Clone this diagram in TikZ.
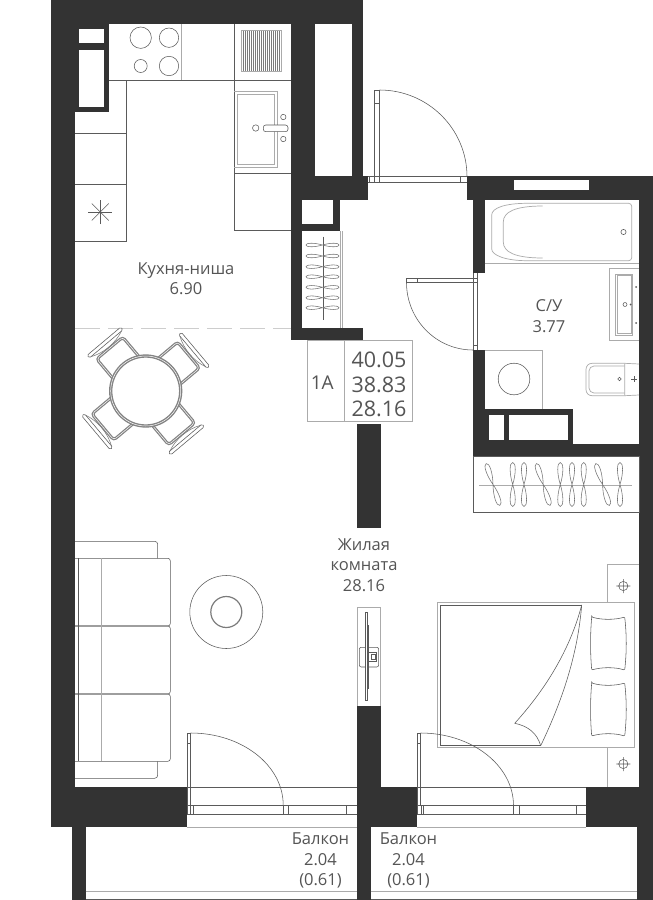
\documentclass[tikz,border=0pt]{standalone}
\usepackage{fontspec}
\setmainfont{Open Sans}
\definecolor{wallc}{HTML}{333333}
\definecolor{linec}{HTML}{5A5A5A}
\definecolor{softc}{HTML}{ABABAB}
\definecolor{textc}{HTML}{555555}
\tikzset{
  wall/.style={fill=wallc},
  glass/.style={fill=white},
  thin line/.style={draw=linec, line width=.55pt},
  soft line/.style={draw=softc, line width=.9pt},
  lab/.style={text=textc, align=center, inner sep=0pt, font=\fontsize{16.5}{20.5}\selectfont},
  hanger/.pic={\draw[thin line, draw=linec!85] (0,0) .. controls (-11,-3.4) and (-22,-3.4) .. (-22,0) .. controls (-22,3.4) and (-11,3.4) .. (0,0)
      .. controls (11,-3.4) and (22,-3.4) .. (22,0) .. controls (22,3.4) and (11,3.4) .. (0,0);},
  chair/.pic={
    \draw[draw=linec!75, line width=1.25pt, double=white, double distance=.5pt, rounded corners=3pt] (25,-17) -- (56,-17) -- (56,17) -- (25,17);
    \draw[thin line, fill=white, rounded corners=1.5pt] (61.5,-22) rectangle (65,22);
    \draw[thin line, draw=linec!80] (61.5,-20) .. controls (56,-8) and (56,8) .. (61.5,20);},
  pillow/.pic={\draw[thin line, rounded corners=1pt] (0,0) .. controls (10,3) and (23,3) .. (33,0) .. controls (35,18) and (35,35) .. (33,53)
      .. controls (23,50) and (10,50) .. (0,53) .. controls (-1.5,35) and (-1.5,18) .. (0,0) -- cycle;},
  outlet/.pic={\draw[thin line] (0,0) circle[radius=4.6] (-7,0) -- (7,0) (0,-7) -- (0,7);}
}
\begin{document}
\begin{tikzpicture}[x=1pt, y=-1pt]
\useasboundingbox (0,0) rectangle (653,900);
\fill[white] (0,0) rectangle (653,900);

% walls
\fill[wall] (51,0) rectangle (363,24);
\fill[wall] (51,0) rectangle (75,827);
\fill[wall] (51,24) rectangle (109,112);
\fill[wall] (291,0) rectangle (363,176);
\fill[wall] (291,176) rectangle (368,200);
\fill[wall] (291,200) rectangle (302,340);
\fill[wall] (333,200) rectangle (340,231);
\fill[wall] (291,224) rectangle (340,231);
\fill[wall] (291,328) rectangle (363,340);
\fill[wall] (357,424) rectangle (381,528);
\fill[wall] (467,176) rectangle (653,200);
\fill[wall] (473,200) rectangle (484.5,273);
\fill[wall] (639,200) rectangle (653,787);
\fill[wall] (473,350) rectangle (484.5,456);
\fill[wall] (473,409) rectangle (573,456);
\fill[wall] (573,444) rectangle (639,456);
\fill[wall] (357,706) rectangle (381,787);
\fill[wall] (357,787) rectangle (417,827);
\fill[wall] (357,827) rectangle (370.7,900);
\fill[wall] (586.3,787) rectangle (653,827);
\fill[wall] (637,827) rectangle (653,900);
\fill[wall] (51,787) rectangle (187,827);
\fill[wall] (72,827) rectangle (85.7,900);
\fill[glass] (79,29) rectangle (104,43);
\fill[glass] (79,49.5) rectangle (104,107);
\fill[glass] (314.7,24) rectangle (352,176);
\fill[glass] (302.5,200) rectangle (333,224);
\fill[glass] (513.5,179.5) rectangle (588.5,189.5);
\fill[glass] (489,414.5) rectangle (503.6,440);
\fill[glass] (509,414.5) rectangle (567.6,440);

% kitchen
\draw[thin line] (109,80) -- (291,80) (234.3,24) -- (234.3,230) -- (291,230) (234.3,173.3) -- (291,173.3);
\draw[soft line] (181,24) -- (181,80);
\draw[thin line] (126.7,80) -- (126.7,241) -- (75,241) (75,133.3) -- (126.7,133.3) (75,184) -- (126.7,184);
\foreach \cx/\cy/\rr in {140.7/37.7/10.7, 169/37.7/9.7, 140.7/66/6.5, 169/66/9.7}
  \draw[thin line] (\cx,\cy) circle[radius=\rr];
\draw[soft line] (241,30) rectangle (281,71.3);
\foreach \hx in {243,245,...,279}
  \draw[draw=linec!80, line width=.7pt] (\hx,30.5) -- (\hx,71);
\foreach \ang in {0,45,...,135}
  \draw[thin line, rotate around={\ang:(100.3,212)}] (88.3,212) -- (112.3,212);
\draw[soft line, line width=.7pt] (234.3,91) -- (277,91) -- (277,167.3) -- (234.3,167.3);
\draw[soft line, line width=.7pt] (237.3,94) rectangle (274,164);
\draw[thin line, fill=white, rounded corners=2.5pt] (263.3,125) rectangle (288,131.7);
\draw[thin line] (255.7,128) circle[radius=3.2] (283.3,117) circle[radius=2.7] (283.3,139) circle[radius=2.7];

% closet
\draw[soft line, line width=.7pt] (340,231) -- (340,328) (342,231) -- (342,328);
\draw[thin line] (323.3,236.7) -- (323.3,320);
\foreach \hy in {245,256,266.7,276.7,287.3,297.7,307.7}
  \pic[xscale=.75, yscale=.7] at (322.5,\hy) {hanger};

% kitchen limit
\draw[draw=softc!60, line width=1pt, dash pattern=on 25pt off 8pt] (75,328) -- (291,328);

% table
\foreach \ang in {40,130,220,310}
  \pic[rotate=\ang] at (145.7,391) {chair};
\draw[draw=linec!75, line width=1.4pt, double=white, double distance=.5pt, fill=white] (145.7,391) circle[radius=35];

% sofa
\draw[thin line, rounded corners=3pt] (75,541.3) -- (157.7,541.3) -- (157.7,558.3);
\draw[thin line, rounded corners=3pt] (75,778.3) -- (157.7,778.3) -- (157.7,761.3);
\draw[thin line, rounded corners=2.5pt] (75,558.3) -- (170.3,558.3) -- (170.3,626) -- (75,626);
\draw[thin line, rounded corners=2.5pt] (75,626) -- (170.3,626) -- (170.3,694) -- (75,694);
\draw[thin line, rounded corners=2.5pt] (75,694) -- (170.3,694) -- (170.3,761.3) -- (75,761.3);
\draw[thin line] (78.5,558.3) -- (78.5,761.3);
\draw[soft line] (101,558.3) -- (101,761.3);
\draw[thin line] (226.3,612) circle[radius=36.5];
\draw[draw=linec!80, line width=1.2pt] (226.3,612) circle[radius=15.5];

% tv
\draw[soft line, line width=.7pt] (356.9,706) -- (356.9,607.3) -- (380.7,607.3) -- (380.7,706);
\draw[thin line, rounded corners=2pt] (359.3,647.3) rectangle (378.7,667);
\draw[thin line, fill=white] (365,612.3) rectangle (367,700);
\draw[thin line] (367,625) rectangle (368.5,688);
\draw[thin line] (368.3,652) rectangle (376.7,661) (371,654) rectangle (375,659);

% entrance door
\draw[thin line] (368,176.7) -- (467,176.7) (368,182) -- (467,182);
\draw[thin line] (369,176.7) -- (369,182) (374.5,90) -- (374.5,182) (379.5,90) -- (379.5,182) (460.7,176.7) -- (460.7,182);
\draw[thin line] (374.5,90) -- (379.5,90);
\draw[thin line] (379.5,90) arc[start angle=-90, end angle=0, x radius=87.5, y radius=86.7];
\draw[thin line] (374.5,103) -- (379.5,103);

% bathroom door
\draw[thin line] (473.3,273) -- (473.3,350) (477.3,273) -- (477.3,350) (473.3,345) -- (477.3,345);
\draw[thin line] (406.5,278) rectangle (477.3,282.5) (417,278) -- (417,282.5);
\draw[thin line] (406.5,282.5) arc[start angle=180, end angle=90, x radius=66.5, y radius=67.5];

% bathroom
\draw[soft line] (484.5,263.5) -- (639,263.5);
\draw[soft line, line width=.7pt, rounded corners=3pt] (631.7,203.3) -- (530,203.3) .. controls (505,203.3) and (491.7,208) .. (491.7,218) -- (491.7,246) .. controls (491.7,255) and (505,260.7) .. (530,260.7) -- (631.7,260.7) -- cycle;
\draw[soft line, line width=.7pt] (542.7,206) .. controls (515,206) and (503.3,212) .. (503.3,222) -- (503.3,242) .. controls (503.3,252) and (515,258) .. (542.7,258);
\draw[thin line] (623.5,232) circle[radius=2.6];
\draw[soft line, line width=.8pt] (639,268.3) -- (609.3,268.3) -- (609.3,340.7) -- (639,340.7);
\draw[soft line, line width=.7pt] (615.7,274) rectangle (632.7,335) (617.2,275.5) rectangle (631.2,333.5);
\draw[thin line] (625,304.5) circle[radius=2];
\fill[linec] (630.5,304.5) circle[radius=1] (636,287) circle[radius=1] (636,323) circle[radius=1];
\draw[soft line] (484.5,350) -- (542,350) -- (542,409);
\draw[thin line] (514,379) circle[radius=15.8];
\draw[soft line, line width=.7pt, rounded corners=6pt] (624.7,363.3) -- (586,363.3) -- (586,395.7) -- (624.7,395.7);
\draw[soft line, line width=.7pt, rounded corners=5pt] (624.7,366) -- (589,366) -- (589,393) -- (624.7,393);
\draw[soft line, line width=.7pt] (624.7,363.3) -- (639,364) (624.7,395.7) -- (639,395) (624.7,363.3) -- (624.7,395.7);
\draw[thin line] (619.5,379) circle[radius=1.8];
\draw[thin line, line width=.8pt] (631,379) -- (637,379) (634,376) -- (634,382);

% wardrobe
\draw[thin line] (473,456) rectangle (639,512);
\draw[soft line, line width=.7pt] (479,485) -- (632,485);
\foreach \hx in {512.7,524,560.3,572,583.7,620}
  \pic[rotate=90] at (\hx,484.5) {hanger};
\foreach \hx in {493,543.2,602.6}
  \pic[rotate=-72] at (\hx,484.5) {hanger};

% bed
\draw[soft line, line width=.8pt] (634.3,602.7) -- (437.7,602.7) -- (437.7,747.7) -- (634.3,747.7) -- cycle;
\draw[thin line] (581.7,605) -- (440,605) -- (440,745.7) -- (540.7,745.7);
\draw[thin line] (581.7,605) .. controls (570,650) and (545,690) .. (514.7,723.3);
\draw[thin line] (581.7,605) .. controls (578,650) and (565,695) .. (540.7,745.7);
\draw[thin line] (514.7,723.3) .. controls (528,726) and (537,733) .. (540.7,745.7);
\pic at (591.7,617) {pillow};
\pic at (591.7,683) {pillow};
\draw[soft line, line width=.7pt] (639,564) -- (607.3,564) -- (607.3,602.7);
\draw[soft line, line width=.7pt] (607.3,747.7) -- (607.3,787);
\pic at (623.3,586) {outlet};
\pic at (623.3,764) {outlet};

% balcony doors
\draw[thin line] (187,787) -- (357,787) (187,805) -- (357,805) (187,814) -- (357,814);
\draw[thin line] (190.7,805) -- (190.7,814) (193,805) -- (193,814) (283,805) -- (283,814) (288.6,805) -- (288.6,814) (346,805) -- (346,814);
\draw[thin line] (187,733) -- (187,814) (190.7,733) -- (190.7,805) (187,733) -- (190.7,733) (187,743) -- (190.7,743);
\draw[thin line] (190.7,733) arc[start angle=-90, end angle=0, x radius=92.5, y radius=72];
\draw[thin line] (417.3,787) -- (586.3,787) (417.3,805.5) -- (586.3,805.5) (417.3,814) -- (586.3,814);
\draw[thin line] (421,805.5) -- (421,814) (423,805.5) -- (423,814) (513.5,805.5) -- (513.5,814) (519,805.5) -- (519,814) (576.5,805.5) -- (576.5,814);
\draw[thin line] (417.3,733) -- (417.3,814) (420.5,733) -- (420.5,805.5) (417.3,733) -- (420.5,733) (417.3,743) -- (420.5,743);
\draw[thin line] (420.5,733) arc[start angle=-90, end angle=0, x radius=93, y radius=72.5];

% balcony
\draw[soft line] (187,827) -- (357,827) (417,827) -- (586.3,827);
\draw[soft line] (85.7,891.7) -- (357,891.7) (370.7,891.7) -- (637,891.7);
\draw[thin line] (85.7,899) -- (357,899) (370.7,899) -- (637,899);

% plate
\draw[soft line, line width=.8pt] (307,340) rectangle (412,421.7) (344.3,340) -- (344.3,421.7);
\node[lab, font=\fontsize{19}{20}\selectfont] (plate) at (322.3,383) {1A};
\node[lab, font=\fontsize{21.5}{24.2}\selectfont] (areas) at (379,384.5) {40.05\\38.83\\28.16};

% rooms
\node[lab] (kitchenlab) at (186,278.5) {Кухня-ниша\\6.90};
\node[lab] (bathlab) at (549,316) {С/У\\3.77};
\node[lab] (roomlab) at (364,565) {Жилая\\комната\\28.16};
\node[lab] (balconyl) at (320.5,860.5) {Балкон\\2.04\\(0.61)};
\node[lab] (balconyr) at (408.5,860.5) {Балкон\\2.04\\(0.61)};
\end{tikzpicture}
\end{document}
